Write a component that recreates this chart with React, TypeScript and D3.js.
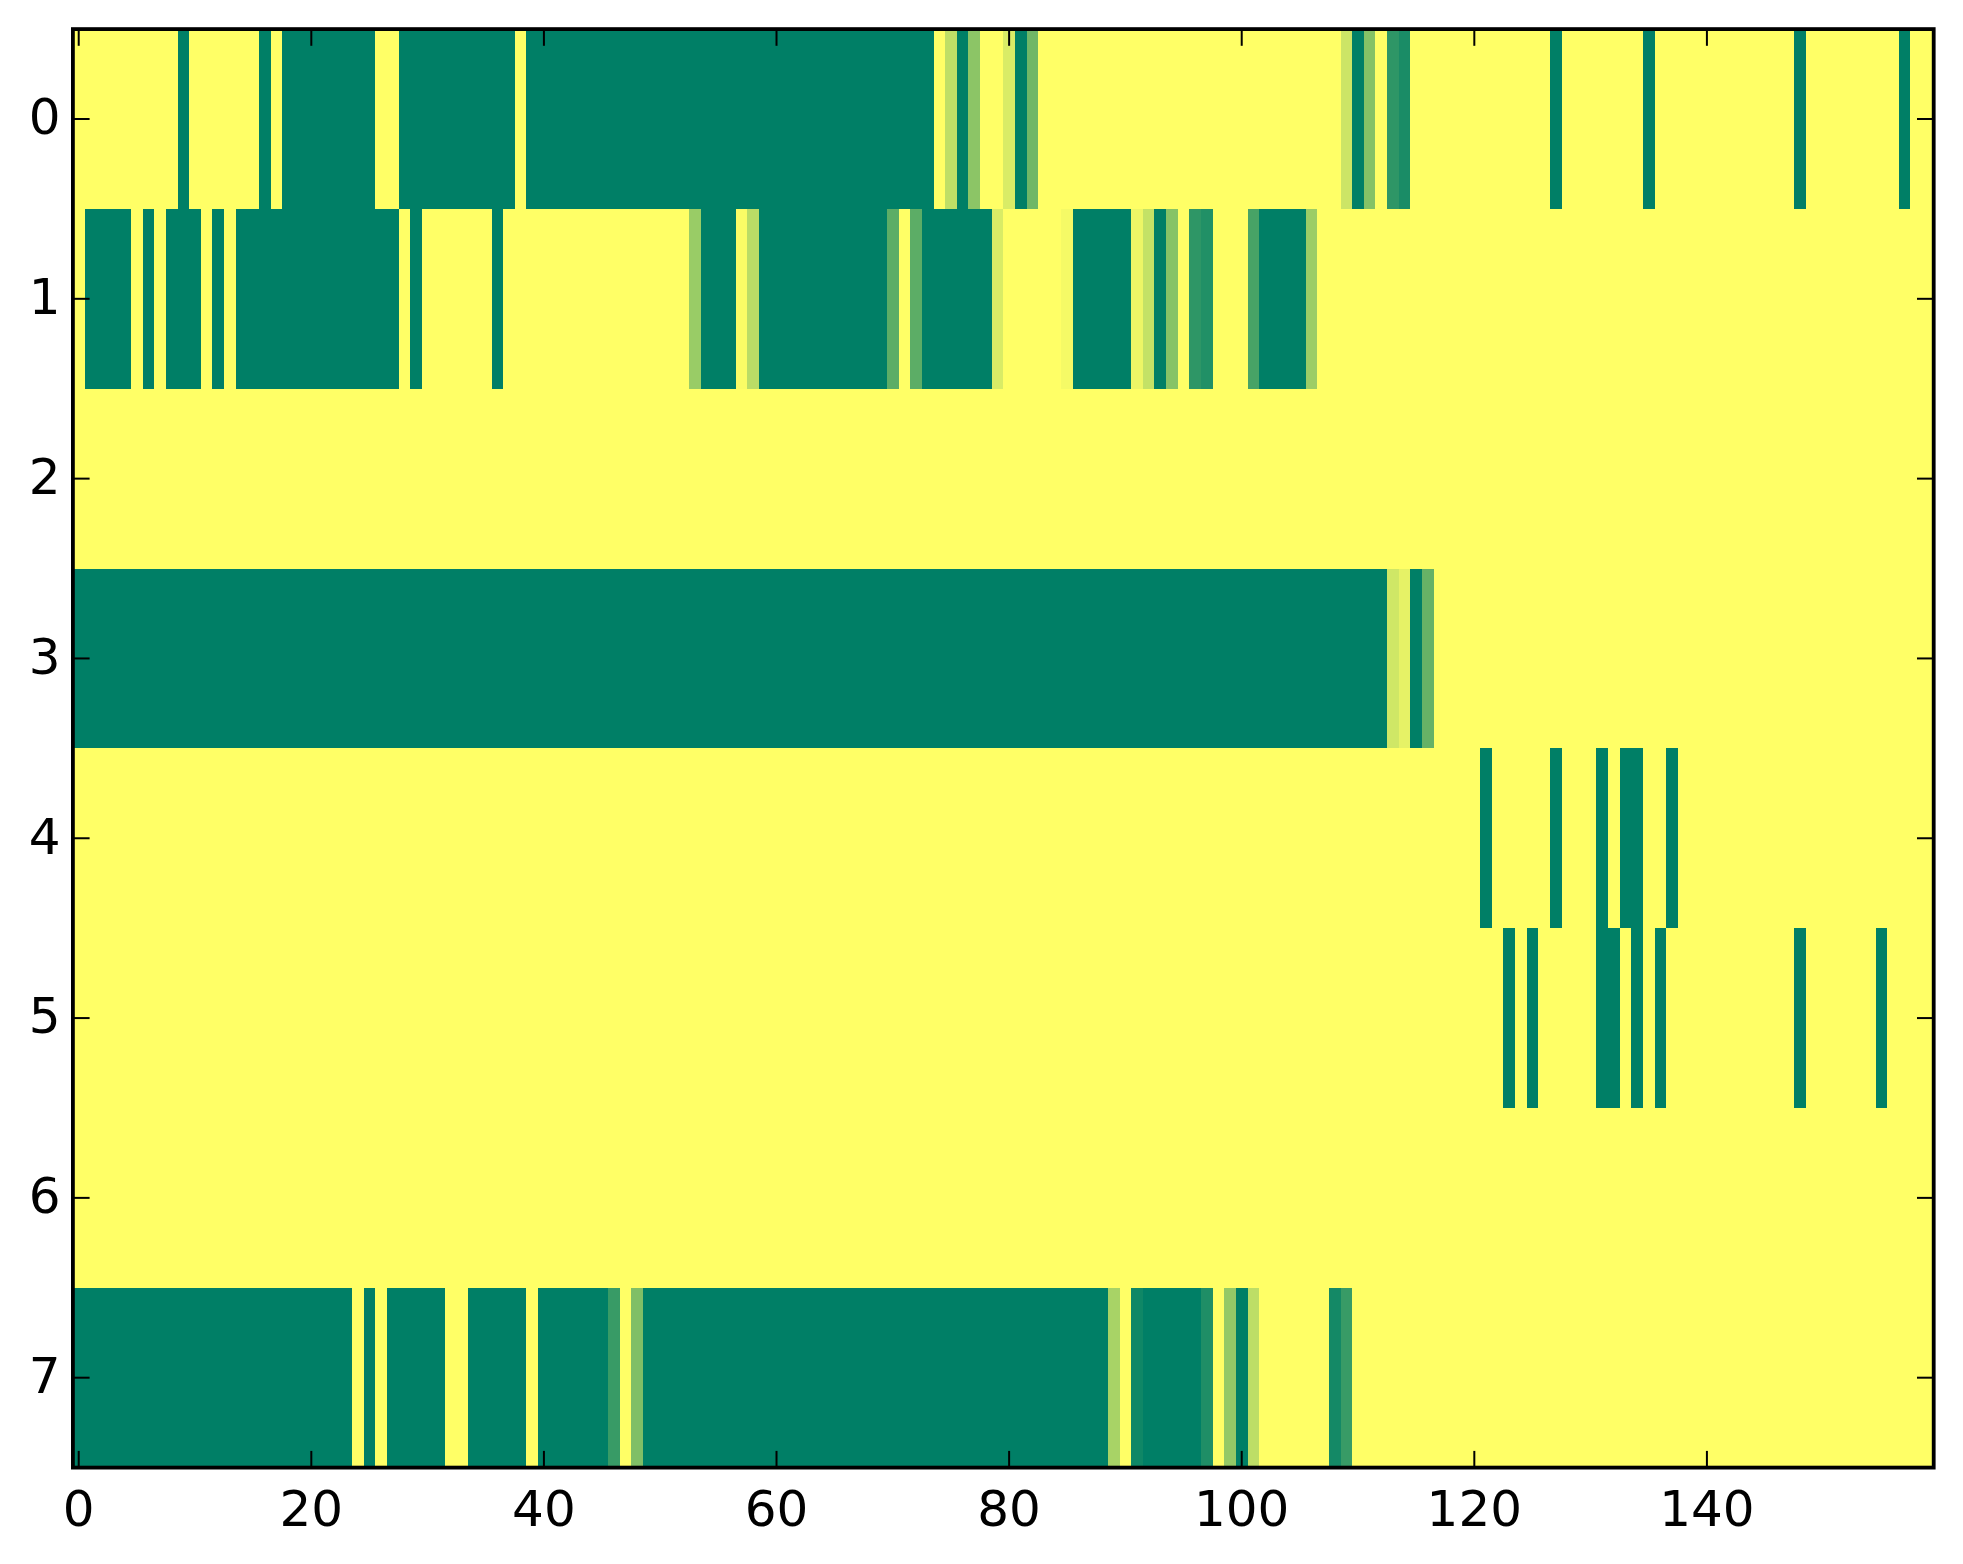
import * as d3 from 'd3'

const W = 1963, H = 1564
const BOX = { left: 72.9, top: 29.1, right: 1933.7, bottom: 1467.6 }
const TICK = 16.7

// each row as runs of [value, count]; 0 = yellow, 1 = green (summer_r)
const row0: [number, number][] = [
  [0, 9], [1, 1], [0, 6], [1, 1], [0, 1], [1, 8], [0, 2], [1, 10], [0, 1], [1, 35],
  [0, 1], [0.25, 1], [1, 1], [0.45, 1], [0, 2], [0.15, 1], [1, 1], [0.56, 1], [0, 26],
  [0.2, 1], [1, 1], [0.48, 1], [0, 1], [0.82, 1], [0.9, 1], [0, 12], [1, 1], [0, 7],
  [1, 1], [0, 12], [1, 1], [0, 8], [1, 1], [0, 2],
]
const row1: [number, number][] = [
  [0, 1], [1, 4], [0, 1], [1, 1], [0, 1], [1, 3], [0, 1], [1, 1], [0, 1], [1, 14],
  [0, 1], [1, 1], [0, 6], [1, 1], [0, 16], [0.4, 1], [1, 3], [0.02, 1], [0.27, 1],
  [1, 11], [0.64, 1], [0, 1], [0.64, 1], [1, 6], [0.15, 1], [0, 5], [0.04, 1], [1, 5],
  [0.07, 1], [0.23, 1], [1, 1], [0.47, 1], [0, 1], [0.82, 1], [0.87, 1], [0, 3],
  [0.72, 1], [1, 4], [0.39, 1], [0, 53],
]
const row2: [number, number][] = [[0, 160]]
const row3: [number, number][] = [[1, 113], [0.19, 1], [0.1, 1], [1, 1], [0.6, 1], [0, 43]]
const row4: [number, number][] = [
  [0, 121], [1, 1], [0, 5], [1, 1], [0, 3], [1, 1], [0, 1], [1, 2], [0, 2], [1, 1], [0, 22],
]
const row5: [number, number][] = [
  [0, 123], [1, 1], [0, 1], [1, 1], [0, 5], [1, 2], [0, 1], [1, 1], [0, 1], [1, 1],
  [0, 11], [1, 1], [0, 6], [1, 1], [0, 4],
]
const row6: [number, number][] = [[0, 160]]
const row7: [number, number][] = [
  [1, 24], [0, 1], [1, 1], [0, 1], [1, 5], [0, 2], [1, 5], [0, 1], [1, 6], [0.78, 1],
  [0, 1], [0.5, 1], [1, 40], [0.34, 1], [0, 1], [0.94, 1], [1, 5], [0.88, 1], [0, 1],
  [0.42, 1], [1, 1], [0.26, 1], [0, 6], [0.92, 1], [0.78, 1], [0, 50],
]

const rows = [row0, row1, row2, row3, row4, row5, row6, row7]
const xTicks = [0, 20, 40, 60, 80, 100, 120, 140]
const yTicks = [0, 1, 2, 3, 4, 5, 6, 7]

function expand(runs: [number, number][]): number[] {
  const out: number[] = []
  runs.forEach(([v, n]) => { for (let i = 0; i < n; i++) out.push(v) })
  return out
}

export default function App() {
  const grid = rows.map(expand)
  const nCol = grid[0].length

  const x = d3.scaleLinear().domain([-0.5, nCol - 0.5]).range([BOX.left, BOX.right])
  const y = d3.scaleLinear().domain([-0.5, rows.length - 0.5]).range([BOX.top, BOX.bottom])
  const color = d3.scaleLinear<string>().domain([0, 1]).range(['#ffff66', '#007f66'])

  const font = { fontFamily: '"DejaVu Sans", sans-serif', fontSize: 50 }

  return (
    <svg width={W} height={H} style={{ position: 'absolute', left: 0, top: 0, background: '#fff' }}>
      {/* cells */}
      <g shapeRendering="crispEdges">
        {grid.map((vals, r) =>
          vals.map((v, c) => (
            <rect key={`${r}-${c}`}
              x={x(c - 0.5)} y={y(r - 0.5)}
              width={x(c + 0.5) - x(c - 0.5) + 0.5}
              height={y(r + 0.5) - y(r - 0.5) + 0.5}
              fill={color(v)} />
          )))}
      </g>

      {/* ticks (inside, all four sides) */}
      <g stroke="#000" strokeWidth={2}>
        {xTicks.map((t) => (
          <g key={`xt${t}`}>
            <line x1={x(t)} x2={x(t)} y1={BOX.bottom} y2={BOX.bottom - TICK} />
            <line x1={x(t)} x2={x(t)} y1={BOX.top} y2={BOX.top + TICK} />
          </g>
        ))}
        {yTicks.map((t) => (
          <g key={`yt${t}`}>
            <line x1={BOX.left} x2={BOX.left + TICK} y1={y(t)} y2={y(t)} />
            <line x1={BOX.right} x2={BOX.right - TICK} y1={y(t)} y2={y(t)} />
          </g>
        ))}
      </g>

      {/* frame */}
      <rect x={BOX.left} y={BOX.top} width={BOX.right - BOX.left} height={BOX.bottom - BOX.top}
        fill="none" stroke="#000" strokeWidth={3.8} />

      {/* tick labels */}
      {xTicks.map((t) => (
        <text key={`xl${t}`} x={x(t)} y={1525.5} textAnchor="middle" fill="#000" style={font}>{t}</text>
      ))}
      {yTicks.map((t) => (
        <text key={`yl${t}`} x={60.6} y={y(t) + 15.3} textAnchor="end" fill="#000" style={font}>{t}</text>
      ))}
    </svg>
  )
}
